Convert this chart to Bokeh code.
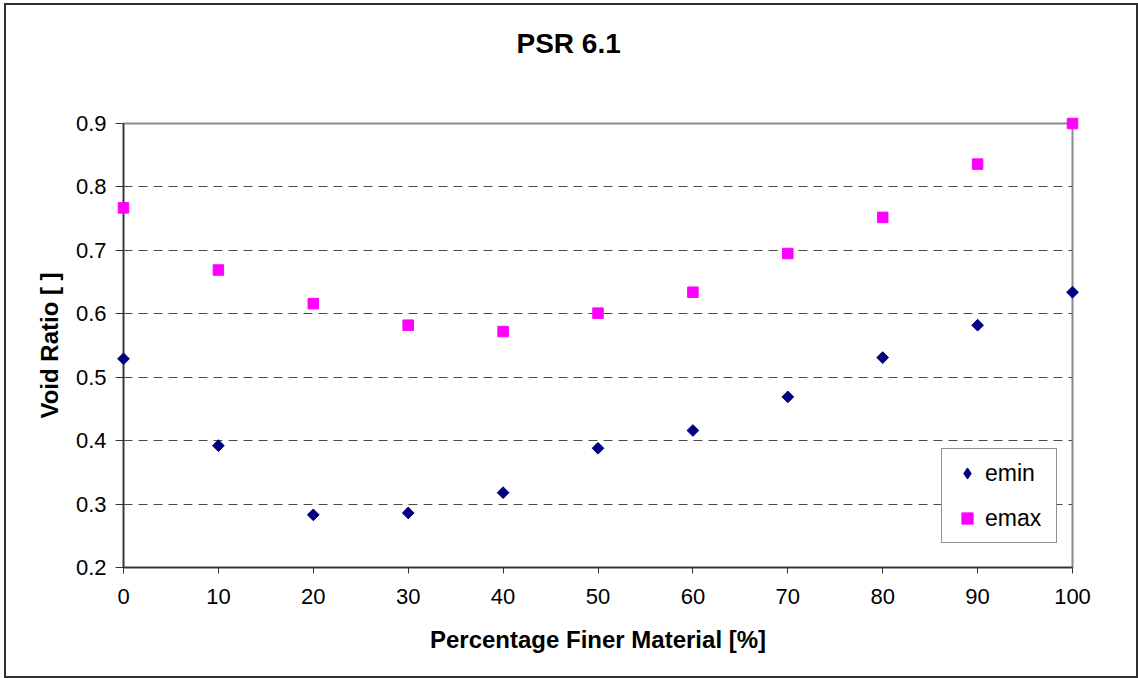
from bokeh.plotting import figure
from bokeh.models import Range1d, FixedTicker, Legend, LegendItem
from bokeh.embed import file_html
from bokeh.resources import INLINE
import numpy as np

# Void ratio limits versus percentage of finer material
fines_pct = [0, 10, 20, 30, 40, 50, 60, 70, 80, 90, 100]
e_min = [0.529, 0.392, 0.283, 0.286, 0.318, 0.388, 0.416, 0.469, 0.531, 0.582, 0.634]
e_max = [0.767, 0.669, 0.616, 0.582, 0.572, 0.601, 0.634, 0.695, 0.752, 0.836, 0.900]

x_ticks = [0, 10, 20, 30, 40, 50, 60, 70, 80, 90, 100]
y_ticks = [0.2, 0.3, 0.4, 0.5, 0.6, 0.7, 0.8, 0.9]
y_grid = [0.3, 0.4, 0.5, 0.6, 0.7, 0.8]

FONT = "Liberation Sans"
AXIS_COLOR = "#333333"
NAVY = "#000080"
MAGENTA = "#FF00FF"

p = figure(
    width=1130, height=671,
    output_backend="svg", toolbar_location=None,
    x_range=Range1d(x_ticks[0], x_ticks[-1]),
    y_range=Range1d(y_ticks[0], y_ticks[-1]),
    min_border_left=117, min_border_right=68,
    min_border_top=118, min_border_bottom=113,
    # trailing blank lines lift the title well above the plot frame
    title="PSR 6.1\n\n",
)
p.margin = (3, 0, 0, 4)
p.styles = {"border": "2px solid #303030", "box-sizing": "content-box"}
p.background_fill_color = "white"
p.border_fill_color = "white"
p.outline_line_color = "#8a8a8a"
p.outline_line_width = 2
p.xgrid.visible = False

p.ygrid.ticker = FixedTicker(ticks=y_grid)
p.ygrid.grid_line_color = "#4a4a4a"
p.ygrid.grid_line_width = 1
p.ygrid.grid_line_dash = "9 6"

p.title.text_font = FONT
p.title.text_font_size = "28px"
p.title.text_font_style = "bold"
p.title.text_color = "black"
p.title.align = "left"
p.title.offset = 393
p.title.standoff = 6

r_min = p.scatter(fines_pct, e_min, marker="square", size=8.3, angle=np.pi / 4,
                  color=NAVY, level="overlay")
r_max = p.scatter(fines_pct, e_max, marker="square", size=10.5,
                  color=MAGENTA, level="overlay")
# diamond swatch used for the legend entry (no visible point of its own)
r_min_key = p.scatter(x=[np.nan], y=[np.nan], marker="diamond", size=15, color=NAVY)

# axes
for ax in (p.xaxis[0], p.yaxis[0]):
    ax.axis_line_color = AXIS_COLOR
    ax.axis_line_width = 1.5
    ax.major_tick_line_color = AXIS_COLOR
    ax.major_tick_line_width = 1
    ax.major_tick_in = 0
    ax.minor_tick_line_color = None
    ax.major_label_text_font = FONT
    ax.major_label_text_font_size = "22px"
    ax.major_label_text_color = "black"
    ax.axis_label_text_font = FONT
    ax.axis_label_text_font_size = "24px"
    ax.axis_label_text_font_style = "bold"
    ax.axis_label_text_color = "black"

xa = p.xaxis[0]
xa.ticker = FixedTicker(ticks=x_ticks)
xa.major_tick_out = 6
xa.major_label_standoff = 15
xa.axis_label = "Percentage Finer Material [%]"
xa.axis_label_standoff = 19

ya = p.yaxis[0]
ya.ticker = FixedTicker(ticks=y_ticks)
ya.major_tick_out = 8
ya.major_label_standoff = 9
ya.axis_label = "Void Ratio [ ]"
ya.axis_label_standoff = 10

leg = Legend(items=[LegendItem(label="emin", renderers=[r_min_key]),
                    LegendItem(label="emax", renderers=[r_max])])
leg.location = (818, 24)
leg.margin = 0
leg.padding = 10
leg.spacing = 17
leg.label_height = 22
leg.glyph_height = 28
leg.glyph_width = 30
leg.label_standoff = 3
leg.label_width = 61
leg.label_text_font = FONT
leg.label_text_font_size = "23px"
leg.label_text_color = "black"
leg.border_line_color = "#222222"
leg.border_line_width = 1.5
leg.background_fill_color = "white"
leg.background_fill_alpha = 1.0
p.add_layout(leg)

open("out.html", "w").write(file_html(p, INLINE))
